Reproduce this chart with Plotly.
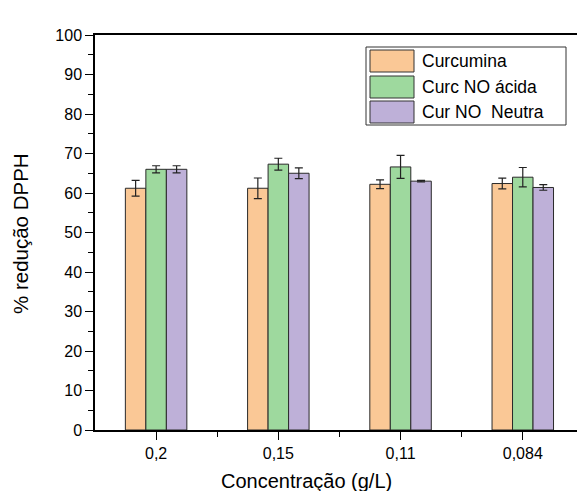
import plotly.graph_objects as go

categories = ["0,2", "0,15", "0,11", "0,084"]
series_names = ["Curcumina", "Curc NO ácida", "Cur NO  Neutra"]
curcumina = [61.2, 61.2, 62.2, 62.4]
curcumina_err = [2.0, 2.6, 1.1, 1.35]
curc_no_acida = [66.0, 67.3, 66.6, 64.0]
curc_no_acida_err = [0.9, 1.5, 2.9, 2.45]
cur_no_neutra = [66.0, 65.0, 63.0, 61.4]
cur_no_neutra_err = [0.9, 1.35, 0.2, 0.7]
y_ticks = [0, 10, 20, 30, 40, 50, 60, 70, 80, 90, 100]

colors = ["#FAC896", "#9ED99E", "#BEB0D8"]
values = [curcumina, curc_no_acida, cur_no_neutra]
errors = [curcumina_err, curc_no_acida_err, cur_no_neutra_err]

# figure slightly wider than the window so the plot's right edge is cropped, as in the reference
W, H = 590, 491
L, R, T, B = 95, 0, 35, 61
FONT = "Liberation Sans, Arial, sans-serif"

xpos = list(range(len(categories)))

fig = go.Figure()
for name, col, v, e in zip(series_names, colors, values, errors):
    fig.add_trace(go.Bar(
        x=xpos, y=v, name=name,
        marker=dict(color=col, line=dict(color="#2a2a2a", width=1)),
        error_y=dict(type="data", array=e, visible=True, color="#222222",
                     thickness=1.2, width=4),
        showlegend=False,
    ))

pw, ph = W - L - R, H - T - B
def px(x):
    return (x - L) / pw
def py(y):
    return 1 - (y - T) / ph

shapes = [dict(type="rect", xref="paper", yref="paper",
               x0=px(366), x1=px(566), y0=py(125), y1=py(47),
               line=dict(color="#333333", width=1), fillcolor="white", layer="above")]
annotations = []
row_y = [61, 87, 112]
for i, (name, col) in enumerate(zip(series_names, colors)):
    cy = row_y[i]
    shapes.append(dict(type="rect", xref="paper", yref="paper",
                       x0=px(370), x1=px(414), y0=py(cy + 11), y1=py(cy - 11),
                       line=dict(color="#333333", width=1), fillcolor=col, layer="above"))
    annotations.append(dict(xref="paper", yref="paper", x=px(420), y=py(cy),
                            text=name, showarrow=False, xanchor="left", yanchor="middle",
                            font=dict(family=FONT, size=17.5, color="black")))

annotations.append(dict(xref="paper", yref="paper", x=px(20), y=py(234),
                        text="% redução DPPH", showarrow=False, textangle=-90,
                        xanchor="center", yanchor="middle",
                        font=dict(family=FONT, size=20.5, color="black")))
annotations.append(dict(xref="paper", yref="paper", x=px(306), y=py(481),
                        text="Concentração (g/L)", showarrow=False,
                        xanchor="center", yanchor="middle",
                        font=dict(family=FONT, size=20, color="black")))

fig.update_layout(
    width=W, height=H,
    margin=dict(l=L, r=R, t=T, b=B, pad=0),
    paper_bgcolor="white", plot_bgcolor="white",
    barmode="group", bargap=0.497, bargroupgap=0,
    font=dict(family=FONT, size=16, color="black"),
    shapes=shapes, annotations=annotations,
)
fig.update_xaxes(
    range=[-0.5, 3.55], tickmode="array", tickvals=xpos, ticktext=categories,
    showline=True, linecolor="black", linewidth=1.5, mirror=True,
    ticks="outside", ticklen=8, tickwidth=1.2, tickcolor="black",
    minor=dict(tickmode="array", tickvals=[0.5, 1.5, 2.5], ticks="outside", ticklen=5,
               tickwidth=1.2, tickcolor="black", showgrid=False),
    showgrid=False, zeroline=False,
    tickfont=dict(size=16),
)
fig.update_yaxes(
    range=[0, 100], tickmode="array", tickvals=y_ticks,
    showline=True, linecolor="black", linewidth=1.5, mirror=False,
    ticks="outside", ticklen=8, tickwidth=1.2, tickcolor="black",
    minor=dict(tickmode="linear", tick0=5, dtick=10, ticks="outside", ticklen=5,
               tickwidth=1.2, tickcolor="black", showgrid=False),
    showgrid=False, zeroline=False,
    tickfont=dict(size=16),
)

fig.write_html("out.html", config={"displayModeBar": False},
               post_script="document.body.style.margin='0';document.body.style.padding='0';document.body.style.overflow='hidden';")
